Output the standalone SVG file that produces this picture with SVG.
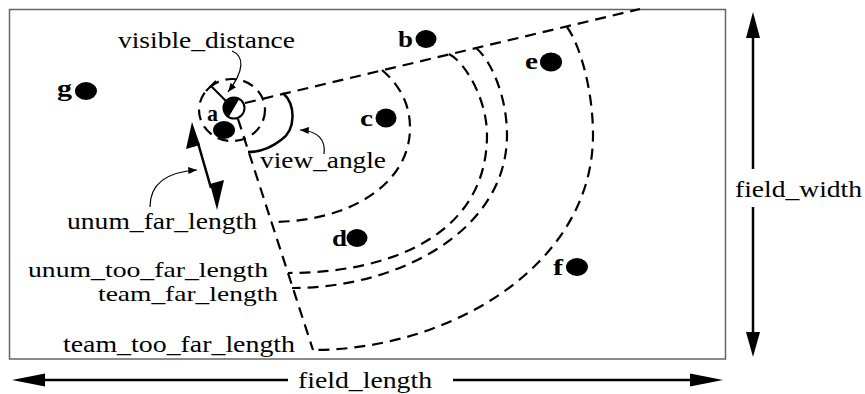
<svg xmlns="http://www.w3.org/2000/svg" width="865" height="394" viewBox="0 0 865 394">
<defs>
<style>
.dash{fill:none;stroke:#000;stroke-width:2.2;stroke-dasharray:11 7}
.thin{fill:none;stroke:#000;stroke-width:1.2}
.solid{fill:none;stroke:#000;stroke-width:2.5}
.head{fill:#000;stroke:none}
.lbl{font-family:"Liberation Serif","Times New Roman",serif;font-size:23px;fill:#000}
.sm{font-size:21px}
.pt{font-family:"Liberation Serif","Times New Roman",serif;font-size:23px;font-weight:bold;fill:#000}
.dot{fill:#000}
</style>
<marker id="tip" viewBox="0 0 10 8" refX="10" refY="4" markerWidth="9" markerHeight="7" markerUnits="userSpaceOnUse" orient="auto">
<path d="M0,0 L10,4 L0,8 Z" fill="#000"/>
</marker>
</defs>
<rect width="865" height="394" fill="#fff"/>
<g id="field">
<rect x="9.5" y="9.5" width="716" height="349.5" fill="none" stroke="#666" stroke-width="1.5"/>
</g>
<g id="connectors">
<path class="dash" d="M245,103 L640,9"/>
<path class="dash" d="M238,119 L313,350"/>
<ellipse class="dash" cx="232" cy="110" rx="33" ry="31"/>
<path class="dash" d="M382,70 C396,82 410,100 410,128 C410,183 351,222 271,222"/>
<path class="dash" d="M449,54 C466,63 487,100 487,135 C487,235 390,273 288,273"/>
<path class="dash" d="M476,48 C490,59 507,95 507,135 C507,230 400,288 292,288"/>
<path class="dash" d="M567,27 C580,45 593,90 593,135 C593,265 450,350 313,350"/>
<path class="solid" d="M283,93 C296,105 296,130 281,140 C272,147 260,152 248,152"/>
<path fill="none" stroke="#000" stroke-width="2" d="M226,101 L211,86 M206,91 L216,81"/>
<path class="thin" marker-end="url(#tip)" d="M232,51 C244,56 245,70 228,92"/>
<path class="thin" marker-end="url(#tip)" d="M324,154 C326,140 318,131 300,130"/>
<path class="thin" marker-end="url(#tip)" d="M150,207 C150,185 165,172 197,170"/>
<g id="unum-far-arrow">
<line x1="198" y1="143" x2="211" y2="188" stroke="#000" stroke-width="2.5"/>
<polygon class="head" points="192,122 186,149 200,145"/>
<polygon class="head" points="217,210 210,184 224,180"/>
</g>
<g id="field-width-arrow">
<line x1="753" y1="36" x2="753" y2="169" stroke="#000" stroke-width="2.5"/>
<line x1="753" y1="207" x2="753" y2="334" stroke="#000" stroke-width="2.5"/>
<polygon class="head" points="753,12 746,38 760,38"/>
<polygon class="head" points="753,357 746,332 760,332"/>
</g>
<g id="field-length-arrow">
<line x1="43" y1="380" x2="288" y2="380" stroke="#000" stroke-width="2.5"/>
<line x1="453" y1="380" x2="692" y2="380" stroke="#000" stroke-width="2.5"/>
<polygon class="head" points="12,380 45,373.5 45,386.5"/>
<polygon class="head" points="723,380 690,373.5 690,386.5"/>
</g>
</g>
<g id="player">
<circle cx="234" cy="108" r="10.5" fill="#fff" stroke="#000" stroke-width="2"/>
<path d="M239.25,98.9 A10.5,10.5 0 0,0 228.75,117.1 Z" fill="#000"/>
</g>
<g id="obj-a"><ellipse class="dot" cx="224" cy="130" rx="11" ry="9"/><text class="pt" x="207" y="121" textLength="11" lengthAdjust="spacingAndGlyphs">a</text></g>
<g id="obj-b"><ellipse class="dot" cx="426" cy="39" rx="10.5" ry="9"/><text class="pt" x="398" y="47" textLength="15" lengthAdjust="spacingAndGlyphs">b</text></g>
<g id="obj-c"><ellipse class="dot" cx="386" cy="118" rx="10.5" ry="9.5"/><text class="pt" x="360" y="126" textLength="13" lengthAdjust="spacingAndGlyphs">c</text></g>
<g id="obj-d"><ellipse class="dot" cx="357" cy="238" rx="10.5" ry="9"/><text class="pt" x="332" y="246" textLength="15" lengthAdjust="spacingAndGlyphs">d</text></g>
<g id="obj-e"><ellipse class="dot" cx="551" cy="62" rx="11" ry="9.5"/><text class="pt" x="525" y="69" textLength="13" lengthAdjust="spacingAndGlyphs">e</text></g>
<g id="obj-f"><ellipse class="dot" cx="577" cy="267" rx="11" ry="9"/><text class="pt" x="553" y="275" textLength="10" lengthAdjust="spacingAndGlyphs">f</text></g>
<g id="obj-g"><ellipse class="dot" cx="86" cy="91" rx="11" ry="9"/><text class="pt" x="57" y="96" textLength="15" lengthAdjust="spacingAndGlyphs">g</text></g>
<g id="labels">
<text class="lbl" x="118" y="48" textLength="177" lengthAdjust="spacingAndGlyphs">visible_distance</text>
<text class="lbl" x="260" y="168" textLength="126" lengthAdjust="spacingAndGlyphs">view_angle</text>
<text class="lbl" x="67" y="229" textLength="190" lengthAdjust="spacingAndGlyphs">unum_far_length</text>
<text class="lbl sm" x="28" y="277" textLength="240" lengthAdjust="spacingAndGlyphs">unum_too_far_length</text>
<text class="lbl sm" x="98" y="301" textLength="180" lengthAdjust="spacingAndGlyphs">team_far_length</text>
<text class="lbl" x="63" y="352" textLength="232" lengthAdjust="spacingAndGlyphs">team_too_far_length</text>
<text class="lbl" x="735" y="197" textLength="127" lengthAdjust="spacingAndGlyphs">field_width</text>
<text class="lbl" x="298" y="388" textLength="134" lengthAdjust="spacingAndGlyphs">field_length</text>
</g>
</svg>
